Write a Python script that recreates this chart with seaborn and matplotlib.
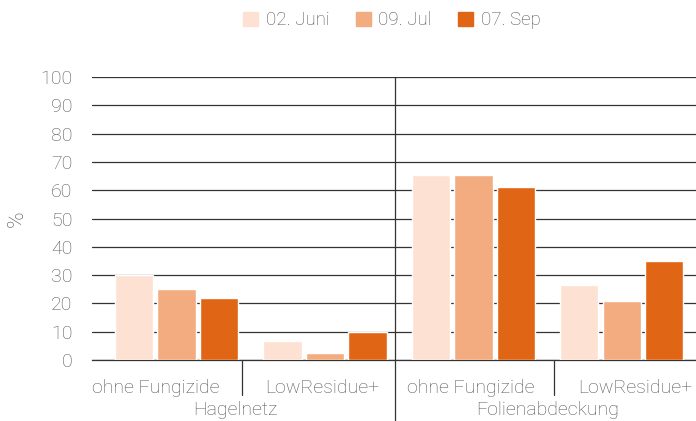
import matplotlib.pyplot as plt
import pandas as pd
import seaborn as sns

# data
kategorien = ['Hagelnetz\nohne Fungizide', 'Hagelnetz\nLowResidue+',
              'Folienabdeckung\nohne Fungizide', 'Folienabdeckung\nLowResidue+']
termine = ['02. Juni', '09. Jul', '07. Sep']
juni = [30, 6.7, 65.5, 26.5]
juli = [25, 2.5, 65.5, 21]
sept = [22, 10, 61, 35]

unter_labels = ['ohne Fungizide', 'LowResidue+', 'ohne Fungizide', 'LowResidue+']
gruppen = ['Hagelnetz', 'Folienabdeckung']
farben = ['#FDE2D4', '#F2AC7F', '#E06515']

df = pd.DataFrame({
    'kat': kategorien * 3,
    'termin': [t for t in termine for _ in kategorien],
    'wert': juni + juli + sept,
})

sns.set_style('white')
plt.rcParams['font.family'] = ['Roboto', 'DejaVu Sans']
plt.rcParams['font.weight'] = 'light'
text_col = '#555555'
fs = 14

fig = plt.figure(figsize=(6.96, 4.21), dpi=100)
ax = fig.add_axes([92 / 696, 61 / 421, 604 / 696, 283 / 421])

sns.barplot(data=df, x='kat', y='wert', hue='termin', palette=farben,
            width=0.86, gap=0.1, saturation=1, ax=ax, legend=False, zorder=3)

ax.set_ylim(0, 100)
ax.set_xlim(-0.57, 3.5)
ax.set_yticks(range(0, 101, 10))
ax.yaxis.grid(True, color='#333333', linewidth=0.9, zorder=0)
ax.set_axisbelow(True)
ax.tick_params(axis='y', length=0, pad=14, labelsize=fs, labelcolor=text_col)
ax.set_xticks([])
ax.set_xlabel('')
ax.set_ylabel('%', fontsize=16, color=text_col, labelpad=9,
              fontweight='ultralight')
for s in ['left', 'right', 'top']:
    ax.spines[s].set_visible(False)
ax.spines['bottom'].set_color('#333333')
ax.spines['bottom'].set_linewidth(0.9)

trans = ax.get_xaxis_transform()
# trennlinien
for xs in [0.44, 2.54]:
    ax.plot([xs, xs], [0, -0.124], transform=trans, color='#333333',
            linewidth=0.9, clip_on=False)
ax.plot([1.47, 1.47], [1, -0.216], transform=trans, color='#333333',
        linewidth=0.9, clip_on=False)

for xp, lab in zip([-0.138, 0.981, 1.979, 3.092], unter_labels):
    ax.text(xp, -0.099, lab, transform=trans, ha='center', va='center',
            fontsize=fs, color=text_col)
for xp, lab in zip([0.394, 2.497], gruppen):
    ax.text(xp, -0.177, lab, transform=trans, ha='center', va='center',
            fontsize=fs, color=text_col)

handles = [plt.Rectangle((0, 0), 1, 1, color=c) for c in farben]
fig.legend(handles, termine, loc='center', bbox_to_anchor=(0.563, 0.952),
           ncol=3, frameon=False, fontsize=13.5, labelcolor=text_col,
           handlelength=0.8, handleheight=0.8, handletextpad=0.4,
           columnspacing=1.4)

plt.savefig('out.png', dpi=100)
